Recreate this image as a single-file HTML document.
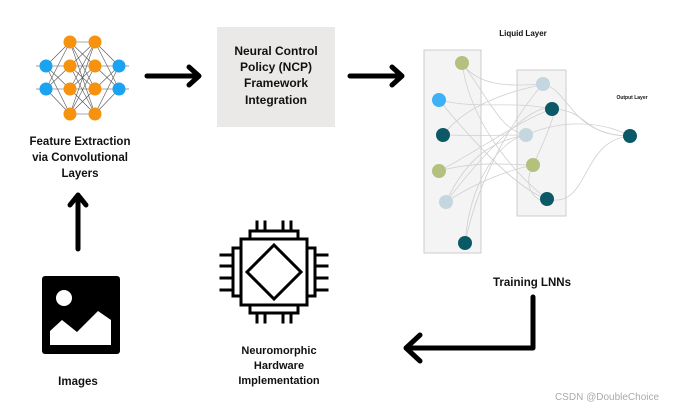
<!DOCTYPE html>
<html><head><meta charset="utf-8"><style>
html,body{margin:0;padding:0;background:#fff;}
svg{display:block;}
text{font-family:"Liberation Sans",sans-serif;font-weight:bold;fill:#111;text-anchor:middle;}
text.n{font-weight:normal;}
</style></head><body>
<svg width="676" height="409" viewBox="0 0 676 409" xmlns="http://www.w3.org/2000/svg">
<rect width="676" height="409" fill="#fff"/>
<g stroke="#555" stroke-width="0.6">
<line x1="46" y1="66" x2="70" y2="42"/><line x1="46" y1="66" x2="70" y2="66"/><line x1="46" y1="66" x2="70" y2="89"/><line x1="46" y1="66" x2="70" y2="114"/>
<line x1="46" y1="89" x2="70" y2="42"/><line x1="46" y1="89" x2="70" y2="66"/><line x1="46" y1="89" x2="70" y2="89"/><line x1="46" y1="89" x2="70" y2="114"/>
<line x1="70" y1="42" x2="95" y2="42"/><line x1="70" y1="42" x2="95" y2="66"/><line x1="70" y1="42" x2="95" y2="89"/><line x1="70" y1="42" x2="95" y2="114"/>
<line x1="70" y1="66" x2="95" y2="42"/><line x1="70" y1="66" x2="95" y2="66"/><line x1="70" y1="66" x2="95" y2="89"/><line x1="70" y1="66" x2="95" y2="114"/>
<line x1="70" y1="89" x2="95" y2="42"/><line x1="70" y1="89" x2="95" y2="66"/><line x1="70" y1="89" x2="95" y2="89"/><line x1="70" y1="89" x2="95" y2="114"/>
<line x1="70" y1="114" x2="95" y2="42"/><line x1="70" y1="114" x2="95" y2="66"/><line x1="70" y1="114" x2="95" y2="89"/><line x1="70" y1="114" x2="95" y2="114"/>
<line x1="95" y1="42" x2="119" y2="66"/><line x1="95" y1="66" x2="119" y2="66"/><line x1="95" y1="89" x2="119" y2="66"/><line x1="95" y1="114" x2="119" y2="66"/>
<line x1="95" y1="42" x2="119" y2="89"/><line x1="95" y1="66" x2="119" y2="89"/><line x1="95" y1="89" x2="119" y2="89"/><line x1="95" y1="114" x2="119" y2="89"/>
<line x1="36" y1="66" x2="46" y2="66"/><line x1="36" y1="89" x2="46" y2="89"/><line x1="119" y1="66" x2="129" y2="66"/><line x1="119" y1="89" x2="129" y2="89"/>
</g>
<g fill="#1aa3f0"><circle cx="46" cy="66" r="6.5"/><circle cx="46" cy="89" r="6.5"/><circle cx="119" cy="66" r="6.5"/><circle cx="119" cy="89" r="6.5"/></g>
<g fill="#f7920f"><circle cx="70" cy="42" r="6.5"/><circle cx="70" cy="66" r="6.5"/><circle cx="70" cy="89" r="6.5"/><circle cx="70" cy="114" r="6.5"/><circle cx="95" cy="42" r="6.5"/><circle cx="95" cy="66" r="6.5"/><circle cx="95" cy="89" r="6.5"/><circle cx="95" cy="114" r="6.5"/></g>
<text x="80" y="145" font-size="11.5">Feature Extraction</text>
<text x="80" y="161" font-size="11.5">via Convolutional</text>
<text x="80" y="177" font-size="11.5">Layers</text>
<g stroke="#000" stroke-width="5" fill="none" stroke-linecap="round" stroke-linejoin="round">
<line x1="147" y1="76" x2="198" y2="76"/><polyline points="189,67 199,76 189,85"/>
<line x1="350" y1="76" x2="401" y2="76"/><polyline points="392,67 402,76 392,85"/>
<line x1="78" y1="249" x2="78" y2="196"/><polyline points="70,205 78,195 86,205"/>
<polyline points="533,297 533,348 408,348"/><polyline points="420,335 406,348 420,361"/>
</g>
<rect x="217" y="27" width="118" height="100" fill="#ebe9e7"/>
<text x="276" y="55" font-size="12">Neural Control</text>
<text x="276" y="71" font-size="12">Policy (NCP)</text>
<text x="276" y="87" font-size="12">Framework</text>
<text x="276" y="104" font-size="12">Integration</text>
<text x="523" y="36" font-size="8">Liquid Layer</text>
<text x="632" y="99" font-size="5">Output Layer</text>
<rect x="424" y="50" width="57" height="203" fill="#f4f4f4" stroke="#ccc"/>
<rect x="517" y="70" width="49" height="146" fill="#f4f4f4" stroke="#ccc"/>
<g stroke="#d0d0d0" stroke-width="0.8" fill="none">
<path d="M462,63 C480,90 520,85 543,84"/><path d="M462,63 C470,120 510,170 547,199"/><path d="M462,63 C490,100 500,130 526,135"/>
<path d="M439,100 C480,110 510,100 552,109"/><path d="M439,100 C480,150 520,190 547,199"/>
<path d="M443,135 C480,136 500,135 526,135"/><path d="M443,135 C470,100 520,90 543,84"/>
<path d="M439,171 C480,150 520,120 552,109"/><path d="M439,171 C480,160 510,165 533,165"/>
<path d="M446,202 C470,150 500,140 526,135"/><path d="M446,202 C480,180 510,170 533,165"/><path d="M446,202 C470,170 530,100 552,109"/>
<path d="M465,243 C470,180 500,140 526,135"/><path d="M465,243 C480,170 520,110 543,84"/>
<path d="M543,84 C570,90 570,135 630,136"/><path d="M552,109 C590,110 580,135 630,136"/><path d="M526,135 C560,120 600,120 630,136"/>
<path d="M547,199 C590,210 580,140 630,136"/><path d="M533,165 C520,190 540,205 547,199"/><path d="M533,165 C550,130 560,100 552,109"/>
</g>
<circle cx="462" cy="63" r="7" fill="#b4c07e"/><circle cx="439" cy="100" r="7" fill="#3cb1f5"/><circle cx="443" cy="135" r="7" fill="#0b5966"/>
<circle cx="439" cy="171" r="7" fill="#b4c07e"/><circle cx="446" cy="202" r="7" fill="#c4d6e0"/><circle cx="465" cy="243" r="7" fill="#0b5966"/>
<circle cx="543" cy="84" r="7" fill="#c4d6e0"/><circle cx="552" cy="109" r="7" fill="#0b5966"/><circle cx="526" cy="135" r="7" fill="#c4d6e0"/>
<circle cx="533" cy="165" r="7" fill="#b4c07e"/><circle cx="547" cy="199" r="7" fill="#0b5966"/><circle cx="630" cy="136" r="7" fill="#0b5966"/>
<text x="532" y="286" font-size="11.5">Training LNNs</text>
<g stroke="#000" stroke-width="3" fill="none" stroke-linecap="square">
<rect x="241" y="239" width="66" height="66"/>
<rect x="250" y="231" width="48" height="8"/><rect x="250" y="305" width="48" height="8"/>
<rect x="233" y="248" width="8" height="48"/><rect x="307" y="248" width="8" height="48"/>
<path d="M257,222v9M265,222v9M283,222v9M291,222v9M257,313v9M265,313v9M283,313v9M291,313v9"/>
<path d="M221,255h12M221,266h12M221,278h12M221,290h12M315,255h12M315,266h12M315,278h12M315,290h12"/>
<path d="M274,245 L301,272 L274,299 L247,272 Z"/>
</g>
<text x="279" y="354" font-size="11">Neuromorphic</text>
<text x="279" y="369" font-size="11">Hardware</text>
<text x="279" y="384" font-size="11">Implementation</text>
<rect x="42" y="276" width="78" height="78" rx="3" fill="#000"/>
<circle cx="64" cy="298" r="8" fill="#fff"/>
<polygon points="50,331 62,320 77,332 98,311 111,320 111,345 50,345" fill="#fff"/>
<text x="78" y="385" font-size="11.5">Images</text>
<text class="n" x="607" y="400" font-size="10" style="fill:#aaa">CSDN @DoubleChoice</text>
</svg>
</body></html>
